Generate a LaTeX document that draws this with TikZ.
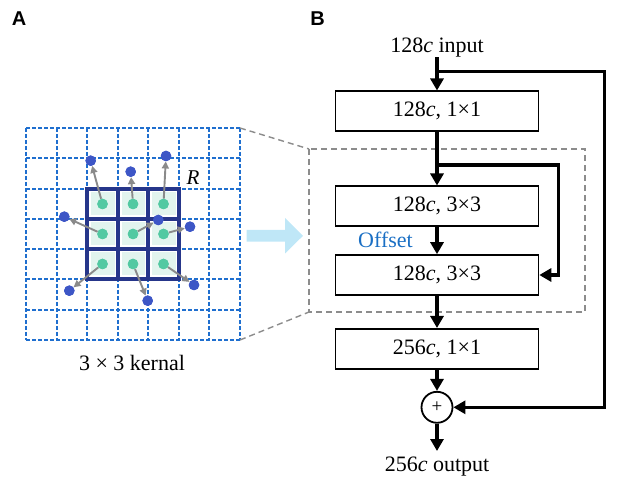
\documentclass[tikz,border=0pt]{standalone}
\usepackage{fontspec}
\setmainfont{Liberation Serif}
\newfontfamily\labfont{Liberation Sans}
\usetikzlibrary{arrows.meta}
\definecolor{gridblue}{HTML}{1F6FCF}
\definecolor{navy}{HTML}{26368A}
\definecolor{mint}{HTML}{E2F4EE}
\definecolor{greendot}{HTML}{52C9A2}
\definecolor{bluedot}{HTML}{3D56C6}
\definecolor{offgray}{HTML}{8A8A8A}
\definecolor{bigarrow}{HTML}{BFE7F7}
\definecolor{offblue}{HTML}{1A6FC4}
\definecolor{dgray}{HTML}{8C8C8C}
\tikzset{
  txt/.style={font=\fontsize{22}{26}\selectfont, inner sep=0pt},
  layer/.style={draw, line width=1.6pt, minimum width=203pt, minimum height=40pt, inner sep=0pt, font=\fontsize{22}{26}\selectfont},
  conn/.style={line width=3.2pt, -{Triangle[length=12pt,width=13pt]}},
  gdot/.style={circle, fill=greendot, minimum size=10.5pt, inner sep=0pt},
  bdot/.style={circle, fill=bluedot, minimum size=10.5pt, inner sep=0pt},
  offarrow/.style={draw=offgray, line width=1.9pt, -{Triangle[length=7pt,width=7pt]}},
  gdash/.style={draw=dgray, line width=1.4pt, dash pattern=on 6pt off 4pt},
  gridline/.style={gridblue, line width=2pt, dash pattern=on 4pt off 2pt},
}
\begin{document}
\begin{tikzpicture}[x=1pt,y=-1pt]
\useasboundingbox (0,0) rectangle (624,486);
% panel labels
\node[font=\labfont\bfseries\fontsize{20}{24}\selectfont, inner sep=0pt] (labA) at (19,18.5) {A};
\node[font=\labfont\bfseries\fontsize{20}{24}\selectfont, inner sep=0pt] (labB) at (317.5,18.5) {B};
% ---------- panel A ----------
% kernel cell fills
\foreach \xa/\xb in {87/118,118/148,148/179}{
  \foreach \ya/\yb in {189/219,219/249,249/279}{
    \fill[mint] (\xa+3.5,\ya+3.5) rectangle (\xb-3.5,\yb-3.5);
  }
}
% dashed grid
\foreach \x in {26,57,87,118,148,179,209,240}{
  \draw[gridline] (\x,128) -- (\x,340);
}
\foreach \y in {128,158,189,219,249,279,310,340}{
  \draw[gridline] (26,\y) -- (240,\y);
}
% kernel thick lines
\foreach \x in {87,118,148,179}{
  \draw[navy, line width=3.6pt] (\x,187.2) -- (\x,280.8);
}
\foreach \y in {189,219,249,279}{
  \draw[navy, line width=3.6pt] (85.2,\y) -- (180.8,\y);
}
% green dots (sampling positions)
\node[gdot] (g11) at (102.5,204) {};
\node[gdot] (g12) at (133.0,204) {};
\node[gdot] (g13) at (163.5,204) {};
\node[gdot] (g21) at (102.5,234) {};
\node[gdot] (g22) at (133.0,234) {};
\node[gdot] (g23) at (163.5,234) {};
\node[gdot] (g31) at (102.5,264) {};
\node[gdot] (g32) at (133.0,264) {};
\node[gdot] (g33) at (163.5,264) {};
% blue dots (offset positions)
\node[bdot] (o11) at (90.7,160.7) {};
\node[bdot] (o12) at (130.7,171.7) {};
\node[bdot] (o13) at (166.0,156.0) {};
\node[bdot] (o21) at (64.3,216.7) {};
\node[bdot] (o22) at (158.3,220.0) {};
\node[bdot] (o23) at (190.0,226.7) {};
\node[bdot] (o31) at (69.3,290.7) {};
\node[bdot] (o32) at (147.7,300.7) {};
\node[bdot] (o33) at (194.0,285.0) {};
% offset arrows
\foreach \k in {11,12,13,21,22,23,31,32,33}{
  \draw[offarrow] (g\k) -- (o\k);
}
% redraw dots on top
\foreach \k in {11,12,13,21,22,23,31,32,33}{
  \fill[bluedot] (o\k) circle (5.25pt);
  \fill[greendot] (g\k) circle (5.25pt);
}
\node[font=\itshape\fontsize{21}{24}\selectfont, inner sep=0pt] (R) at (193,178) {R};
\node[txt] (kern) at (132,363) {3 × 3 kernal};
% big light-blue arrow
\fill[bigarrow] (246.7,230) -- (285,230) -- (285,218) -- (303,235.8) -- (285,253.5) -- (285,241.7) -- (246.7,241.7) -- cycle;
% zoom lines and dashed box
\coordinate (gTR) at (240,128);
\coordinate (gBR) at (240,340);
\coordinate (dTL) at (309,149);
\coordinate (dBL) at (309,312);
\coordinate (dBR) at (585,312);
\draw[gdash] (gTR) -- (dTL);
\draw[gdash] (gBR) -- (dBL);
\draw[gdash] (dTL) rectangle (dBR);
% ---------- panel B ----------
\node[txt] (in) at (437,48) {128\textit{c} input};
\node[layer] (b1) at (437,111.3) {128\textit{c}, 1×1};
\node[layer] (b2) at (437,206.3) {128\textit{c}, 3×3};
\node[layer] (b3) at (437,275.0) {128\textit{c}, 3×3};
\node[layer] (b4) at (437,348.8) {256\textit{c}, 1×1};
\node[draw, circle, line width=1.8pt, minimum size=31pt, inner sep=0pt, font=\fontsize{19}{22}\selectfont] (plus) at (437,407.3) {+};
\node[txt] (out) at (437,466.5) {256\textit{c} output};
\node[txt, text=offblue] (off) at (385.5,240) {Offset};
\coordinate (s1) at (437,71.7);
\coordinate (s1r) at (604.3,71.7);
\coordinate (s1d) at (604.3,407.3);
\coordinate (s2) at (437,165);
\coordinate (s2r) at (558.3,165);
\coordinate (s2d) at (558.3,275);
\draw[conn] (437,57.5) -- (b1.north);
\draw[conn] (b1.south) -- (b2.north);
\draw[conn] (b2.south) -- (b3.north);
\draw[conn] (b3.south) -- (b4.north);
\draw[conn] (b4.south) -- (plus.north);
\draw[conn] (plus.south) -- (437,451);
\draw[conn, line join=miter] (s1) -- (s1r) -- (s1d) -- (plus.east);
\draw[conn, line join=miter] (s2) -- (s2r) -- (s2d) -- (b3.east);
\end{tikzpicture}
\end{document}
